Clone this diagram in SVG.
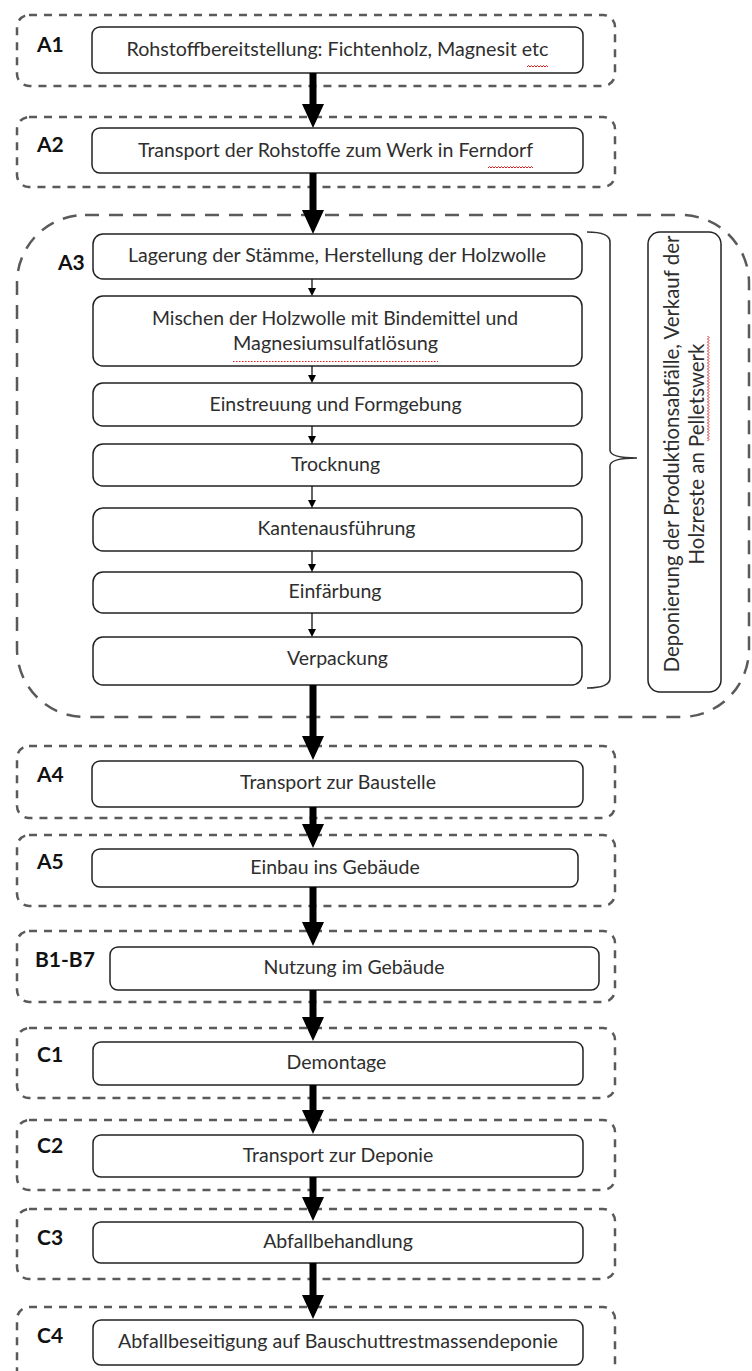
<svg xmlns="http://www.w3.org/2000/svg" width="752" height="1371" viewBox="0 0 752 1371">
<style>
.stage{fill:none;stroke:#5a5a5a;stroke-width:2.5;stroke-dasharray:8 7}
.big{fill:none;stroke:#5a5a5a;stroke-width:2.5;stroke-dasharray:14 10}
.box{fill:#fff;stroke:#222;stroke-width:1.5}
.t{font-family:Lato,"Open Sans","Liberation Sans",sans-serif;font-size:19.5px;fill:#2e2e2e;text-anchor:middle}
.ts{font-family:Lato,"Open Sans","Liberation Sans",sans-serif;font-size:20.4px;fill:#2e2e2e;text-anchor:middle}
.lbl{font-family:Lato,"Liberation Sans",sans-serif;font-size:21px;font-weight:bold;fill:#111}
.thick{fill:#000}
.thin{stroke:#111;stroke-width:1.3;fill:none}
.sq{fill:none;stroke:#d42020;stroke-width:1}
</style>
<rect width="752" height="1371" fill="#fff"/>

<g id="A1">
<rect class="stage" x="17" y="15" width="598" height="71" rx="12"/>
<text class="lbl" x="37" y="52">A1</text>
<rect class="box" x="92" y="27" width="491" height="46" rx="8"/>
<text class="t" x="337.5" y="56" textLength="422" lengthAdjust="spacingAndGlyphs">Rohstoffbereitstellung: Fichtenholz, Magnesit etc</text>
<path class="sq" d="M527,67 l1.5,-1.5 l1.5,1.5 l1.5,-1.5 l1.5,1.5 l1.5,-1.5 l1.5,1.5 l1.5,-1.5 l1.5,1.5 l1.5,-1.5 l1.5,1.5 l1.5,-1.5 l1.5,1.5 l1.5,-1.5 l1.5,1.5"/>
</g>

<g id="A2">
<rect class="stage" x="17" y="117" width="598" height="70" rx="12"/>
<text class="lbl" x="37" y="152">A2</text>
<rect class="box" x="92" y="128" width="491" height="45" rx="8"/>
<text class="t" x="335.5" y="157" textLength="395" lengthAdjust="spacingAndGlyphs">Transport der Rohstoffe zum Werk in Ferndorf</text>
<path class="sq" d="M488,168 l1.5,-1.5 l1.5,1.5 l1.5,-1.5 l1.5,1.5 l1.5,-1.5 l1.5,1.5 l1.5,-1.5 l1.5,1.5 l1.5,-1.5 l1.5,1.5 l1.5,-1.5 l1.5,1.5 l1.5,-1.5 l1.5,1.5 l1.5,-1.5 l1.5,1.5 l1.5,-1.5 l1.5,1.5 l1.5,-1.5 l1.5,1.5 l1.5,-1.5 l1.5,1.5 l1.5,-1.5 l1.5,1.5 l1.5,-1.5 l1.5,1.5 l1.5,-1.5 l1.5,1.5 l1.5,-1.5 l1.5,1.5"/>
</g>

<g id="A3">
<rect class="big" x="17" y="215" width="732" height="502" rx="68"/>
<text class="lbl" x="58" y="270">A3</text>
</g>
<g id="A3-1">
<rect class="box" x="93" y="234" width="489" height="45" rx="10"/>
<text class="t" x="337" y="262" textLength="418" lengthAdjust="spacingAndGlyphs">Lagerung der Stämme, Herstellung der Holzwolle</text>
</g>
<g id="A3-2">
<rect class="box" x="93" y="296" width="489" height="70" rx="10"/>
<text class="t" x="335" y="325" textLength="366" lengthAdjust="spacingAndGlyphs">Mischen der Holzwolle mit Bindemittel und</text>
<text class="t" x="335.5" y="350" textLength="205" lengthAdjust="spacingAndGlyphs">Magnesiumsulfatlösung</text>
<path class="sq" d="M233,361.5 H438" stroke-dasharray="1.5 1.5"/>
</g>
<g id="A3-3">
<rect class="box" x="93" y="383" width="489" height="43" rx="10"/>
<text class="t" x="335.5" y="411">Einstreuung und Formgebung</text>
</g>
<g id="A3-4">
<rect class="box" x="93" y="444" width="489" height="42" rx="10"/>
<text class="t" x="335.5" y="471">Trocknung</text>
</g>
<g id="A3-5">
<rect class="box" x="93" y="508" width="489" height="43" rx="10"/>
<text class="t" x="336.5" y="535">Kantenausführung</text>
</g>
<g id="A3-6">
<rect class="box" x="93" y="572" width="489" height="41" rx="10"/>
<text class="t" x="335" y="598">Einfärbung</text>
</g>
<g id="A3-7">
<rect class="box" x="93" y="637" width="489" height="48" rx="10"/>
<text class="t" x="337.5" y="665">Verpackung</text>
</g>

<g id="brace">
<path d="M587,232 Q610,232 610,242 L610,450 Q610,458 637,458 Q610,458 610,466 L610,678 Q610,688 587,688" fill="none" stroke="#333" stroke-width="1.6"/>
</g>

<g id="waste">
<rect class="box" x="648" y="232" width="73" height="460" rx="12"/>
<text class="ts" transform="rotate(-90 679 454)" x="679" y="454">Deponierung der Produktionsabfälle, Verkauf der</text>
<text class="ts" transform="rotate(-90 704 454)" x="704" y="454">Holzreste an Pelletswerk</text>
<path class="sq" d="M707.5,441 l1.5,-1.5 l-1.5,-1.5 l1.5,-1.5 l-1.5,-1.5 l1.5,-1.5 l-1.5,-1.5 l1.5,-1.5 l-1.5,-1.5 l1.5,-1.5 l-1.5,-1.5 l1.5,-1.5 l-1.5,-1.5 l1.5,-1.5 l-1.5,-1.5 l1.5,-1.5 l-1.5,-1.5 l1.5,-1.5 l-1.5,-1.5 l1.5,-1.5 l-1.5,-1.5 l1.5,-1.5 l-1.5,-1.5 l1.5,-1.5 l-1.5,-1.5 l1.5,-1.5 l-1.5,-1.5 l1.5,-1.5 l-1.5,-1.5 l1.5,-1.5 l-1.5,-1.5 l1.5,-1.5 l-1.5,-1.5 l1.5,-1.5 l-1.5,-1.5 l1.5,-1.5 l-1.5,-1.5 l1.5,-1.5 l-1.5,-1.5 l1.5,-1.5 l-1.5,-1.5 l1.5,-1.5 l-1.5,-1.5 l1.5,-1.5 l-1.5,-1.5 l1.5,-1.5 l-1.5,-1.5 l1.5,-1.5 l-1.5,-1.5 l1.5,-1.5 l-1.5,-1.5 l1.5,-1.5 l-1.5,-1.5 l1.5,-1.5 l-1.5,-1.5 l1.5,-1.5 l-1.5,-1.5 l1.5,-1.5 l-1.5,-1.5 l1.5,-1.5 l-1.5,-1.5 l1.5,-1.5 l-1.5,-1.5 l1.5,-1.5 l-1.5,-1.5 l1.5,-1.5 l-1.5,-1.5 l1.5,-1.5 l-1.5,-1.5 l1.5,-1.5 l-1.5,-1.5"/>
</g>

<g id="A4">
<rect class="stage" x="17" y="746" width="598" height="72" rx="12"/>
<text class="lbl" x="37" y="782">A4</text>
<rect class="box" x="92" y="761" width="491" height="46" rx="8"/>
<text class="t" x="338" y="789">Transport zur Baustelle</text>
</g>

<g id="A5">
<rect class="stage" x="17" y="835" width="598" height="71" rx="12"/>
<text class="lbl" x="37" y="869">A5</text>
<rect class="box" x="92" y="849" width="486" height="38" rx="8"/>
<text class="t" x="335" y="874">Einbau ins Gebäude</text>
</g>

<g id="B1-B7">
<rect class="stage" x="17" y="931" width="598" height="71" rx="12"/>
<text class="lbl" x="35" y="967">B1-B7</text>
<rect class="box" x="110" y="947" width="489" height="43" rx="8"/>
<text class="t" x="354" y="974">Nutzung im Gebäude</text>
</g>

<g id="C1">
<rect class="stage" x="17" y="1028" width="598" height="70" rx="12"/>
<text class="lbl" x="37" y="1062">C1</text>
<rect class="box" x="93" y="1042" width="490" height="43" rx="8"/>
<text class="t" x="336.5" y="1069">Demontage</text>
</g>

<g id="C2">
<rect class="stage" x="17" y="1120" width="598" height="70" rx="12"/>
<text class="lbl" x="37" y="1153">C2</text>
<rect class="box" x="93" y="1135" width="490" height="42" rx="8"/>
<text class="t" x="338" y="1162">Transport zur Deponie</text>
</g>

<g id="C3">
<rect class="stage" x="17" y="1209" width="598" height="70" rx="12"/>
<text class="lbl" x="37" y="1245">C3</text>
<rect class="box" x="93" y="1222" width="490" height="41" rx="8"/>
<text class="t" x="338" y="1248">Abfallbehandlung</text>
</g>

<g id="C4">
<rect class="stage" x="17" y="1307" width="598" height="80" rx="12"/>
<text class="lbl" x="37" y="1343">C4</text>
<rect class="box" x="93" y="1320" width="490" height="45" rx="8"/>
<text class="t" x="338" y="1348" textLength="440" lengthAdjust="spacingAndGlyphs">Abfallbeseitigung auf Bauschuttrestmassendeponie</text>
</g>

<g id="connectors">
<path class="thick" d="M309.5,73 H316.5 V104 H324 L313,128 L302,104 H309.5 Z"/>
<path class="thick" d="M309.5,173 H316.5 V210 H324 L313,234 L302,210 H309.5 Z"/>
<path class="thick" d="M309.5,685 H316.5 V736 H324 L313,760 L302,736 H309.5 Z"/>
<path class="thick" d="M309.5,807 H316.5 V824 H324 L313,848 L302,824 H309.5 Z"/>
<path class="thick" d="M309.5,887 H316.5 V922 H324 L313,946 L302,922 H309.5 Z"/>
<path class="thick" d="M309.5,990 H316.5 V1017 H324 L313,1041 L302,1017 H309.5 Z"/>
<path class="thick" d="M309.5,1085 H316.5 V1110 H324 L313,1134 L302,1110 H309.5 Z"/>
<path class="thick" d="M309.5,1177 H316.5 V1197 H324 L313,1221 L302,1197 H309.5 Z"/>
<path class="thick" d="M309.5,1263 H316.5 V1295 H324 L313,1319 L302,1295 H309.5 Z"/>
<path class="thin" d="M312,279 V289 M312,366 V376 M312,426 V437 M312,486 V501 M312,551 V565 M312,613 V630"/>
<path class="thick" d="M308,288 H316 L312,296 Z M308,375 H316 L312,383 Z M308,436 H316 L312,444 Z M308,500 H316 L312,508 Z M308,564 H316 L312,572 Z M308,629 H316 L312,637 Z"/>
</g>
</svg>
